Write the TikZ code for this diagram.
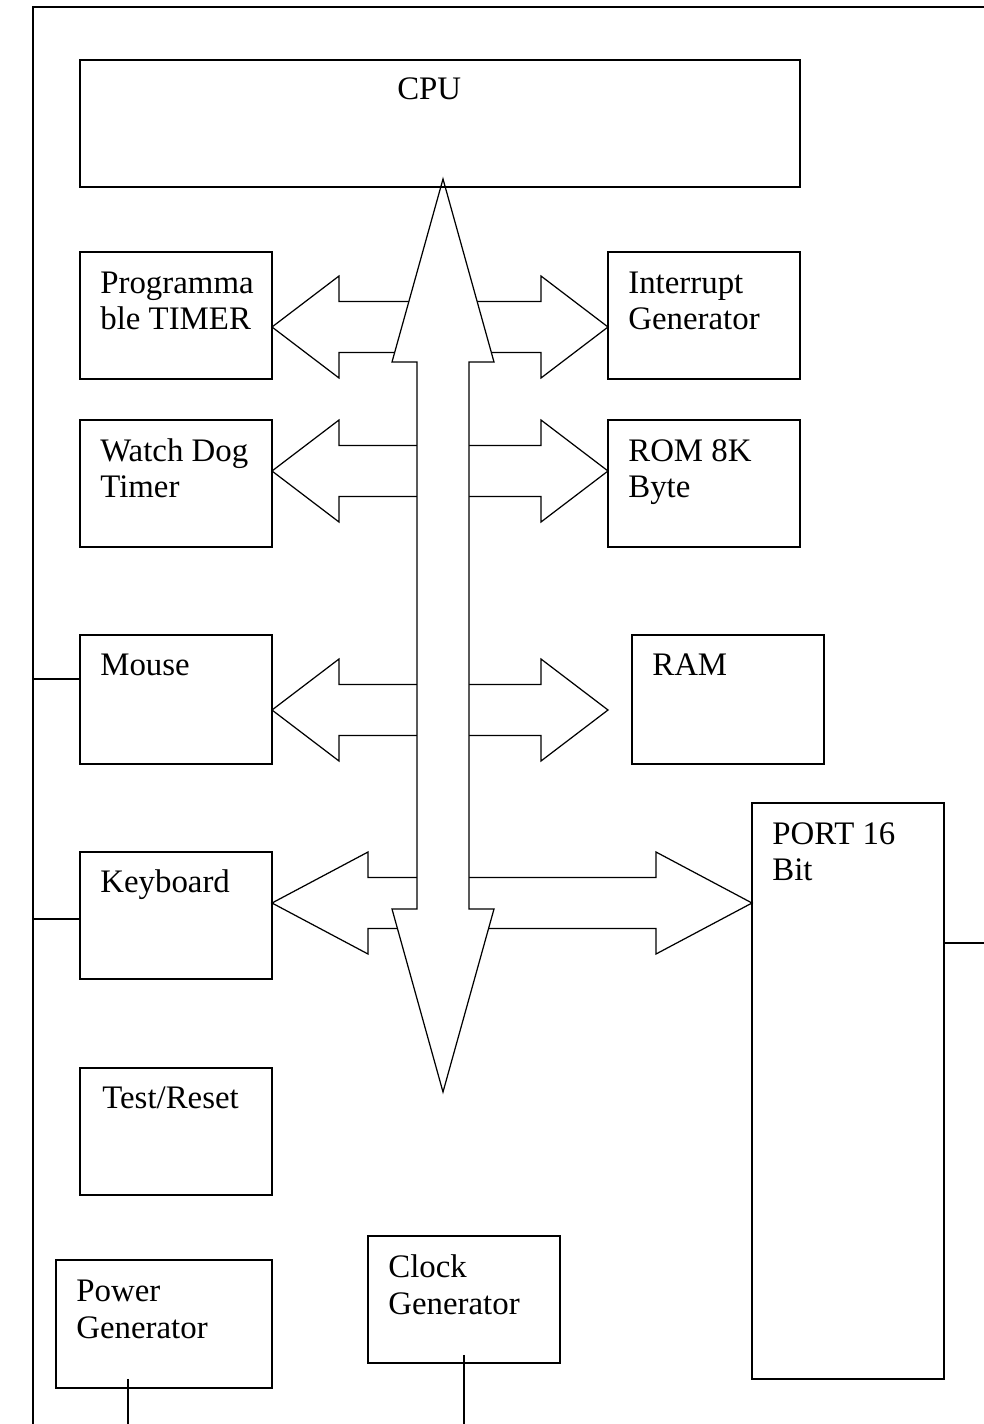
\documentclass[tikz,border=0pt]{standalone}
\usepackage{fontspec}
\setmainfont{Liberation Serif}
\usetikzlibrary{%
	calc,%
	positioning%
}

\tikzset{
	unit/.style={draw, line width=0.9pt, inner sep=0pt, outer sep=0pt, anchor=north west, minimum width=3.84cm, minimum height=2.54cm},
	unittext/.style={anchor=base west, inner sep=0pt, align=left, xshift=0.4cm, yshift=-0.8cm, font=\fontsize{18.7}{21}\selectfont},
	unittwo/.style={unittext, yshift=-0.76cm},
	wire/.style={line width=0.9pt},
	busarrow/.style={draw, line width=0.7pt, fill=white, line join=miter}
}

\begin{document}
\begin{tikzpicture}[x=0.02cm, y=-0.02cm]
	\useasboundingbox (0,0) rectangle (984,1424);
	
	% Draw the outer frame
	\coordinate (frameTR) at (984,7);
	\coordinate (frameBL) at (33,1424);
	\draw[wire] (frameTR) -- (33,7) -- (frameBL);
	
	% Draw the arrows on both sides of the bus
	\foreach \y/\lb/\rb/\rt in {327/339/541/608, 471/339/541/608, 710/339/541/608, 903/368/656/752} {
		\draw[busarrow] (272,\y) -- (\lb,\y-51) -- (\lb,\y-25.5) -- (\rb,\y-25.5) -- (\rb,\y-51) -- (\rt,\y)
			-- (\rb,\y+51) -- (\rb,\y+25.5) -- (\lb,\y+25.5) -- (\lb,\y+51) -- cycle;
	}
	
	% Draw the bus
	\draw[busarrow] (443,179) -- (494,362) -- (469,362) -- (469,909) -- (494,909) -- (443,1092)
		-- (392,909) -- (417,909) -- (417,362) -- (392,362) -- cycle;
	
	% Draw the CPU
	\node[unit, minimum width=14.4cm, label={[unittext, xshift=5.94cm]north west:CPU}] (cpu) at (80,60) {};
	
	% Draw the units on the left
	\node[unit, label={[unittwo]north west:{Programma\\ble TIMER}}] (timer) at (80,252) {};
	\node[unit, label={[unittwo]north west:{Watch Dog\\Timer}}] (wdt) at (80,420) {};
	\node[unit, minimum height=2.58cm, label={[unittext]north west:Mouse}] (mouse) at (80,635) {};
	\node[unit, label={[unittext]north west:Keyboard}] (kbd) at (80,852) {};
	\node[unit, label={[unittext, xshift=0.04cm]north west:Test/Reset}] (test) at (80,1068) {};
	\node[unit, minimum width=4.32cm, minimum height=2.56cm, label={[unittwo]north west:{Power\\Generator}}] (power) at (56,1260) {};
	
	% Draw the units on the right
	\node[unit, label={[unittwo]north west:{Interrupt\\Generator}}] (intr) at (608,252) {};
	\node[unit, label={[unittwo]north west:{ROM 8K\\Byte}}] (rom) at (608,420) {};
	\node[unit, minimum height=2.58cm, label={[unittext]north west:RAM}] (ram) at (632,635) {};
	\node[unit, minimum height=11.52cm, label={[unittwo]north west:{PORT 16\\Bit}}] (port) at (752,803) {};
	\node[unit, label={[unittwo]north west:{Clock\\Generator}}] (clock) at (368,1236) {};
	
	% Draw the lines leaving the units
	\draw[wire] ($(mouse.north west)+(0,44)$) -- +(-47,0);
	\draw[wire] ($(kbd.north west)+(0,67)$) -- +(-47,0);
	\draw[wire] ($(port.north east)+(0,140)$) -- +(40,0);
	\draw[wire] ($(power.south west)+(72,-9)$) -- +(0,54);
	\draw[wire] ($(clock.south)+(0,-8)$) -- +(0,77);
\end{tikzpicture}
\end{document}
